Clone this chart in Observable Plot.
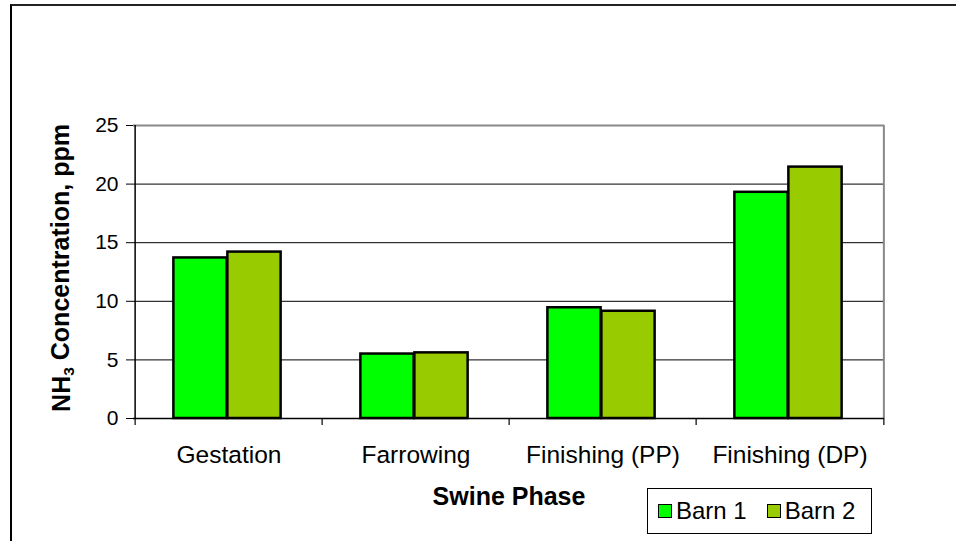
<!DOCTYPE html>
<html>
<head>
<meta charset="utf-8">
<script src="https://cdn.jsdelivr.net/npm/d3@7"></script>
<script src="https://cdn.jsdelivr.net/npm/@observablehq/plot@0.6"></script>
<style>
  html, body { margin: 0; padding: 0; background: #fff; }
  body { width: 956px; height: 541px; position: relative; overflow: hidden; font-family: "Liberation Sans", Arial, sans-serif; }
  #outer { position: absolute; left: 10px; top: 4px; right: 0; bottom: 0; border-left: 2px solid #000; border-top: 2px solid #222; }
  #chart { position: absolute; left: 0; top: 0; }
  #legend { position: absolute; left: 647px; top: 488px; width: 223px; height: 44px; border: 1px solid #000; background: #fff; display: flex; align-items: center; font-size: 24px; color: #000; }
  .item { display: flex; align-items: center; margin-left: 10px; margin-right: 10px; }
  .sw { width: 12px; height: 12px; border: 1.5px solid #000; margin-right: 4px; }
</style>
</head>
<body>
<div id="outer"></div>
<div id="chart"></div>
<div id="legend"></div>
<script>
const categories = ["Gestation", "Farrowing", "Finishing (PP)", "Finishing (DP)"];
const series = ["Barn 1", "Barn 2"];
const barn1 = [13.7, 5.5, 9.45, 19.3];
const barn2 = [14.2, 5.6, 9.15, 21.45];
const yTicks = [0, 5, 10, 15, 20, 25];
const colors = ["#00FF00", "#99CC00"];
const yTitle = "NH3 Concentration, ppm";
const xTitle = "Swine Phase";

const data = [];
categories.forEach((c, i) => {
  data.push({category: c, barn: series[0], value: barn1[i]});
  data.push({category: c, barn: series[1], value: barn2[i]});
});

const W = 956, H = 541, mL = 133, mR = 72, mT = 125, mB = 123;
const step = (W - mL - mR) / categories.length;
const barW = step * 0.2876;
const gap = (step - 2 * barW) / 2 - 1.5;

const chart = Plot.plot({
  width: W, height: H,
  marginLeft: mL, marginRight: mR, marginTop: mT, marginBottom: mB,
  style: {fontFamily: "'Liberation Sans', Arial, sans-serif", background: "transparent", color: "#000"},
  x: {domain: categories, padding: 0, label: null},
  y: {domain: [0, 25], label: null},
  color: {domain: series, range: colors},
  marks: [
    Plot.ruleY(yTicks.filter(t => t > 0 && t < 25), {stroke: "#000", strokeWidth: 1}),
    Plot.ruleY([25], {stroke: "#888", strokeWidth: 2}),
    Plot.ruleX([categories[categories.length - 1]], {dx: step / 2, stroke: "#888", strokeWidth: 2}),
    Plot.barY(data.filter(d => d.barn === series[0]), {x: "category", y: "value", fill: colors[0], stroke: "#000", strokeWidth: 2.5, insetLeft: gap, insetRight: step - gap - barW}),
    Plot.barY(data.filter(d => d.barn === series[1]), {x: "category", y: "value", fill: colors[1], stroke: "#000", strokeWidth: 2.5, insetLeft: gap + barW, insetRight: step - gap - 2 * barW}),
    Plot.ruleX([categories[0]], {dx: -step / 2, stroke: "#000", strokeWidth: 1.5}),
    Plot.ruleY([0], {stroke: "#000", strokeWidth: 1.5}),
    Plot.ruleX(categories, {x: d => d, dx: -step / 2, y1: 0, y2: 0, insetBottom: -7, stroke: "#000", strokeWidth: 1.2}),
    Plot.ruleX([categories[categories.length - 1]], {x: d => d, dx: step / 2, y1: 0, y2: 0, insetBottom: -7, stroke: "#000", strokeWidth: 1.2}),
    Plot.axisY({ticks: yTicks, tickSize: 7, tickPadding: 8, fontSize: 21, label: null, tickFormat: d => String(d)}),
    Plot.axisX({tickSize: 0, tickPadding: 27.5, fontSize: 24.5, label: null}),
    Plot.text([xTitle], {frameAnchor: "bottom", dy: 86, fontSize: 25, fontWeight: "bold", fill: "#000"}),
    Plot.text([yTitle], {frameAnchor: "left", textAnchor: "middle", dx: -72, dy: -4, rotate: -90, fontSize: 25, fontWeight: "bold", fill: "#000"})
  ]
});
document.getElementById("chart").appendChild(chart);

// subscript in NH3
d3.select(chart).selectAll("text").each(function() {
  if (this.textContent === yTitle) {
    const t = d3.select(this);
    t.text(null);
    t.append("tspan").text("NH");
    t.append("tspan").attr("font-size", "0.62em").attr("dy", "0.3em").text("3");
    t.append("tspan").attr("dy", "-0.19em").text(" Concentration, ppm");
  }
});

const legend = d3.select("#legend");
series.forEach((s, i) => {
  const item = legend.append("div").attr("class", "item");
  item.append("div").attr("class", "sw").style("background", colors[i]);
  item.append("span").text(s);
});
</script>
</body>
</html>
